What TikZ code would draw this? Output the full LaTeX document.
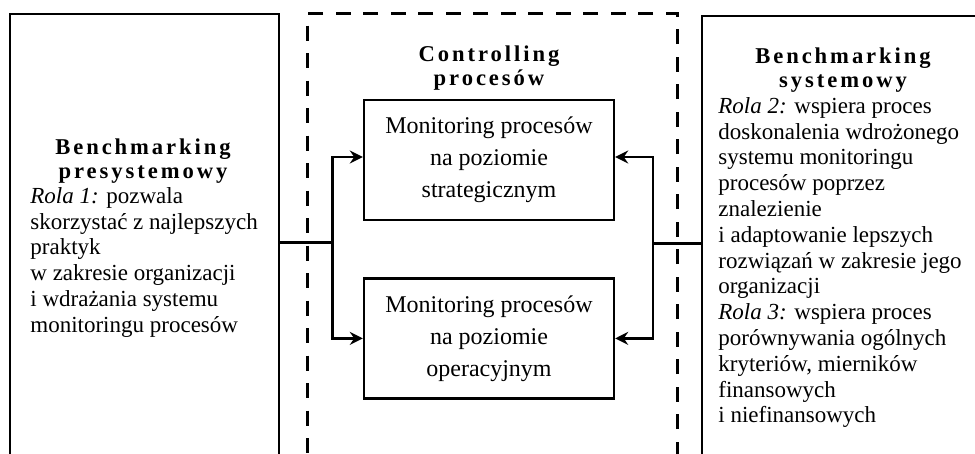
\documentclass[tikz,border=0pt]{standalone}
\usepackage{fontspec}
\setmainfont{Liberation Serif}
\newfontfamily\spacedfont[LetterSpace=13]{Liberation Serif}
\usetikzlibrary{positioning,arrows.meta}

\begin{document}
\begin{tikzpicture}[
x=0.5pt,
y=-0.5pt,
outer/.style={
  draw,
  line width=1.2pt,
  inner sep=0pt,
  anchor=north west
  },
ctrlbox/.style={
  outer,
  line width=1.7pt,
  dash pattern=on 7.5pt off 6.25pt
  },
level/.style={
  draw,
  line width=1.2pt,
  minimum width=125pt,
  minimum height=60pt,
  align=center,
  font=\fontsize{12}{16}\selectfont
  },
ttl/.style={
  align=center,
  inner sep=0pt,
  anchor=north,
  font=\spacedfont\bfseries\fontsize{11.3}{12}\selectfont
  },
role/.style={
  align=left,
  inner sep=0pt,
  anchor=north west,
  font=\fontsize{11.5}{12.9}\selectfont
  },
link/.style={
  line width=1.2pt
  },
>={Stealth[length=6.5pt,width=6.5pt,inset=2.2pt]}
]
\useasboundingbox (0,0) rectangle (975,454);
\clip (0,0) rectangle (975,454);

\node[outer, minimum width=134.5pt, minimum height=228.5pt] (pre) at (9,13) {};
\node[ctrlbox, minimum width=185pt, minimum height=229pt] (ctrl) at (306,12) {};
\node[outer, minimum width=144.5pt, minimum height=227.5pt] (sys) at (701,15) {};

\node[ttl] (prettl) at (143,138) {Benchmarking\\presystemowy};
\node[role] (prerole) at (30,187) {\textit{Rola 1:} pozwala\\skorzystać z najlepszych\\praktyk\\w zakresie organizacji\\i wdrażania systemu\\monitoringu procesów};

\node[ttl] (ctrlttl) at (489,45) {Controlling\\procesów};
\node[level] (strat) at (489,160) {Monitoring procesów\\na poziomie\\strategicznym};
\node[level, below=28pt of strat] (oper) {Monitoring procesów\\na poziomie\\operacyjnym};

\node[ttl] (systtl) at (843,47) {Benchmarking\\systemowy};
\node[role] (sysrole) at (718,97) {\textit{Rola 2:} wspiera proces\\doskonalenia wdrożonego\\systemu monitoringu\\procesów poprzez\\znalezienie\\i adaptowanie lepszych\\rozwiązań w zakresie jego\\organizacji\\\textit{Rola 3:} wspiera proces\\porównywania ogólnych\\kryteriów, mierników\\finansowych\\i niefinansowych};

\coordinate (lsplit) at ([xshift=26pt]pre.east);
\coordinate (rsplit) at ([xshift=-24pt]sys.west);
\draw[link] (pre.east) -- (lsplit);
\draw[link,->] (lsplit) |- ([yshift=1.5pt]strat.west);
\draw[link,->] (lsplit) |- (oper.west);
\draw[link] (sys.west) -- (rsplit);
\draw[link,->] (rsplit) |- ([yshift=1.5pt]strat.east);
\draw[link,->] (rsplit) |- (oper.east);
\end{tikzpicture}
\end{document}
